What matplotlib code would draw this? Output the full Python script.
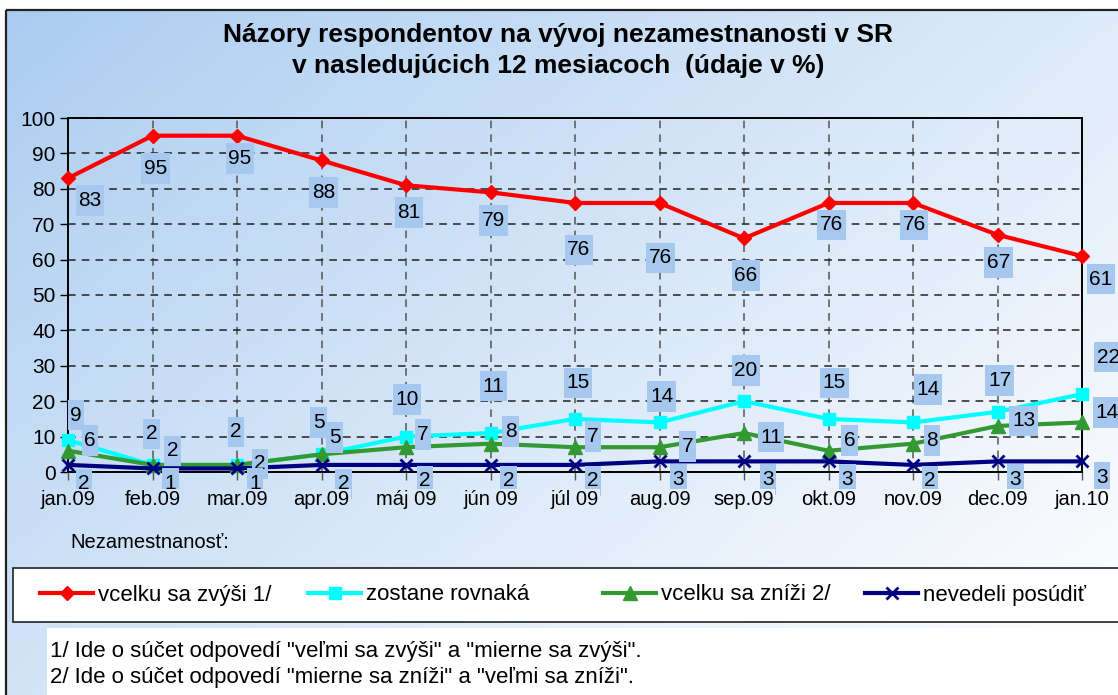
import numpy as np
import matplotlib
matplotlib.use("Agg")
import matplotlib.pyplot as plt
from matplotlib.patches import Rectangle
from matplotlib.path import Path

plt.rcParams['font.family'] = ['Liberation Sans', 'DejaVu Sans']

# ---------------- data ----------------
months = ["jan.09", "feb.09", "mar.09", "apr.09", "máj 09", "jún 09", "júl 09",
          "aug.09", "sep.09", "okt.09", "nov.09", "dec.09", "jan.10"]
zvysi = [83, 95, 95, 88, 81, 79, 76, 76, 66, 76, 76, 67, 61]
rovnaka = [9, 2, 2, 5, 10, 11, 15, 14, 20, 15, 14, 17, 22]
znizi = [6, 2, 2, 5, 7, 8, 7, 7, 11, 6, 8, 13, 14]
nevedeli = [2, 1, 1, 2, 2, 2, 2, 3, 3, 3, 2, 3, 3]
series_names = ["vcelku sa zvýši 1/", "zostane rovnaká", "vcelku sa zníži 2/", "nevedeli posúdiť"]
yticks = list(range(0, 101, 10))
title_lines = ["Názory respondentov na vývoj nezamestnanosti v SR",
               "v nasledujúcich 12 mesiacoch  (údaje v %)"]
foot1 = '1/ Ide o súčet odpovedí "veľmi sa zvýši" a "mierne sa zvýši".'
foot2 = '2/ Ide o súčet odpovedí "mierne sa zníži" a "veľmi sa zníži".'

# label offsets in pixels (dx right, dy up)
off_zvysi = [(22, -22), (3, -33), (3, -23), (2, -32), (3, -27), (3, -28), (4, -47),
             (1, -55), (2, -37), (3, -22), (1, -22), (1, -28), (19, -23)]
off_rovnaka = [(8, 25), (-1, 31), (-1, 33), (-3, 32), (1, 37), (3, 47), (3, 36),
               (2, 26), (2, 31), (6, 36), (15, 33), (2, 31), (26, 37)]
off_znizi = [(22, 10), (20, 14), (23, 1), (13, 17), (17, 13), (20, 12), (18, 11),
             (28, 1), (27, -4), (21, 10), (19, 3), (26, 5), (25, 10)]
off_nevedeli = [(16, -19), (18, -15), (18, -15), (22, -19), (19, -16), (18, -16), (18, -16),
                (19, -18), (24, -18), (19, -18), (17, -16), (18, -18), (20, -16)]
# legend entry start positions (pixels from left)
legend_x = [40, 308, 603, 865]

W, H = 1118, 695
fig = plt.figure(figsize=(W / 100, H / 100), dpi=100)

c0 = np.array([168, 203, 240]) / 255
c1 = np.array([250, 251, 254]) / 255


def grad_t(u, v):
    return np.clip((u * 1.0 + v * 0.75) / 1.6, 0, 1) ** 0.9


def grad_color(px, py):
    t = grad_t(px / W, py / H)
    return tuple(c0 * (1 - t) + c1 * t)


def fx(px):
    return px / W


def fy(py):
    return 1 - py / H


# ---------------- background ----------------
bg = fig.add_axes([0, 0, 1, 1], zorder=-10)
bg.set_xlim(0, W)
bg.set_ylim(H, 0)
bg.axis('off')
uu, vv = np.meshgrid(np.linspace(0, 1, 300), np.linspace(0, 1, 200))
t = grad_t(uu, vv)
img = c0[None, None, :] * (1 - t[..., None]) + c1[None, None, :] * t[..., None]
bg.imshow(img, extent=[0, W, H, 0], aspect='auto', zorder=0)
bg.add_patch(Rectangle((0, 0), W, 10, fc='white', ec='none', zorder=1))
bg.add_patch(Rectangle((0, 0), 6, H, fc='white', ec='none', zorder=1))
bg.add_patch(Rectangle((6, 10), W, H, fill=False, ec='#222222', lw=1.6, zorder=2))
# legend box
bg.add_patch(Rectangle((13, 568), W + 20, 54, fc='white', ec='#222222', lw=1.2, zorder=2))
# footnote box
bg.add_patch(Rectangle((47, 628), W, 80, fc='white', ec='none', zorder=2))
bg.text(50, 651, foot1, fontsize=16, va='center', ha='left', zorder=3)
bg.text(50, 677, foot2, fontsize=16, va='center', ha='left', zorder=3)
bg.text(70, 543, "Nezamestnanosť:", fontsize=14.5, va='center', ha='left', zorder=3)
bg.text(558, 35, title_lines[0], fontsize=19, fontweight='bold', ha='center', va='center')
bg.text(558, 66, title_lines[1], fontsize=19, fontweight='bold', ha='center', va='center')

# ---------------- main axes ----------------
ax = fig.add_axes([fx(68), fy(472), fx(1082) - fx(68), (472 - 118) / H])
ax.set_facecolor('none')
x = np.arange(len(months))
ax.set_xlim(0, len(months) - 1)
ax.set_ylim(0, 100)
ax.set_yticks(yticks)
ax.set_yticklabels([str(v) for v in yticks], fontsize=15)
ax.set_xticks(x)
ax.set_xticklabels([])
ax.tick_params(axis='y', direction='out', length=6, width=1, pad=3)
ax.tick_params(axis='x', direction='out', length=6, width=1, color='#555555')
for s in ax.spines.values():
    s.set_color('black')
    s.set_linewidth(1.4)
ax.grid(True, axis='y', linestyle=(0, (5, 4)), color='#222222', lw=1.1)
ax.grid(True, axis='x', linestyle=(0, (5, 4)), color='#555555', lw=1.1)
ax.set_axisbelow(True)

styles = [
    dict(color='#FF0000', marker='D', ms=7, lw=3.0, mew=1),
    dict(color='#00FFFF', marker='s', ms=8, lw=3.0, mew=1),
    dict(color='#339933', marker='^', ms=10, lw=3.0, mew=1),
    dict(color='#000080', marker='x', ms=9, lw=3.0, mew=2),
]
data = [zvysi, rovnaka, znizi, nevedeli]
offsets = [off_zvysi, off_rovnaka, off_znizi, off_nevedeli]

handles = []
for vals, st, name in zip(data, styles, series_names):
    ln, = ax.plot(x, vals, color=st['color'], marker=st['marker'], ms=st['ms'],
                  lw=st['lw'], mew=st['mew'], mec=st['color'], mfc=st['color'],
                  clip_on=False, zorder=4, label=name)
    handles.append(ln)


def label_box(x0, y0, width, height, mutation_size):
    px = 0.12 * mutation_size
    py = 0.28 * mutation_size
    verts = [(x0 - px, y0 - py), (x0 + width + px, y0 - py),
             (x0 + width + px, y0 + height + py), (x0 - px, y0 + height + py),
             (x0 - px, y0 - py)]
    return Path(verts, closed=True)


for vals, offs in zip(data, offsets):
    for xi, v, (dx, dy) in zip(x, vals, offs):
        ax.annotate(str(v), (xi, v), xytext=(dx, dy), textcoords='offset pixels',
                    ha='center', va='center', fontsize=15, zorder=6,
                    annotation_clip=False,
                    bbox=dict(boxstyle=label_box, fc='#A6C8EE', ec='none'))

# x tick labels drawn on top of the data-label boxes (as in the reference)
ax2 = ax.twiny()
ax2.set_xlim(ax.get_xlim())
ax2.xaxis.set_ticks_position('bottom')
ax2.set_xticks(x)
ax2.set_xticklabels(months, fontsize=14.5)
ax2.tick_params(axis='x', length=0, pad=13)
for s in ax2.spines.values():
    s.set_visible(False)
x_px = np.linspace(68, 1082, len(months))
for lab, xp in zip(ax2.get_xticklabels(), x_px):
    lab.set_bbox(dict(boxstyle='square,pad=0.05', fc=grad_color(xp, 497), ec='none'))

for h, name, lx in zip(handles, series_names, legend_x):
    fig.legend(handles=[h], labels=[name], loc='center left',
               bbox_to_anchor=(fx(lx), fy(595)), frameon=False,
               fontsize=16, handlelength=2.4, handletextpad=0.2,
               borderpad=0, borderaxespad=0)

fig.savefig("out.png", dpi=100)
